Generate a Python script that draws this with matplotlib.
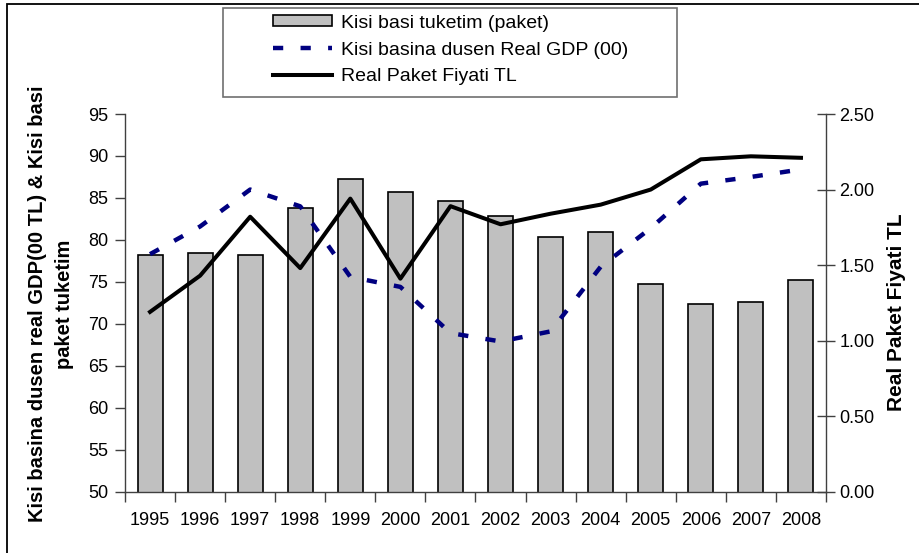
import matplotlib
matplotlib.use("Agg")
import matplotlib.pyplot as plt
from matplotlib.patches import Rectangle, Patch
from matplotlib.lines import Line2D
import numpy as np

plt.rcParams['font.family'] = ['Liberation Sans', 'DejaVu Sans']

years = ['1995', '1996', '1997', '1998', '1999', '2000', '2001',
         '2002', '2003', '2004', '2005', '2006', '2007', '2008']
tuketim = [78.2, 78.4, 78.2, 83.8, 87.2, 85.7, 84.6,
           82.9, 80.3, 80.9, 74.7, 72.4, 72.6, 75.2]
gdp = [78.3, 81.6, 86.0, 84.0, 75.6, 74.4, 68.9,
       67.9, 69.1, 76.8, 81.4, 86.7, 87.5, 88.4]
fiyat = [1.19, 1.43, 1.82, 1.48, 1.94, 1.41, 1.89,
         1.77, 1.84, 1.90, 2.00, 2.20, 2.22, 2.21]

left_ticks = [50, 55, 60, 65, 70, 75, 80, 85, 90, 95]
right_ticks = [0.0, 0.5, 1.0, 1.5, 2.0, 2.5]

W, H = 920, 553
fig = plt.figure(figsize=(W / 100, H / 100), dpi=100)
fig.patch.set_facecolor('white')

# outer chart frame (left and top visible)
fig.patches.append(Rectangle((7 / W, -0.2), 1.3, 1.2 - 4 / H,
                             transform=fig.transFigure, fill=False,
                             edgecolor='black', linewidth=1.3))

ax = fig.add_axes([125 / W, 1 - 491.7 / H, (826 - 125) / W, (491.7 - 114) / H])
ax.set_facecolor('none')
x = np.arange(len(years))

bars = ax.bar(x, tuketim, width=0.5, color='#C0C0C0', edgecolor='black',
              linewidth=1.2, zorder=2)
gline, = ax.plot(x, gdp, color='#000080', linewidth=3.2, dashes=(2.3, 3.9),
                 dash_capstyle='butt', zorder=3)
ax.set_xlim(-0.5, len(years) - 0.5)
ax.set_ylim(50, 95)
ax.set_yticks(left_ticks)
ax.set_yticklabels([str(v) for v in left_ticks])
ax.set_xticks(np.arange(-0.5, len(years), 1.0))
ax.set_xticklabels([])
ax.set_xticks(x, minor=True)
ax.set_xticklabels(years, minor=True)
ax.tick_params(axis='x', which='major', direction='out', length=7,
               color='#404040', width=1)
ax.tick_params(axis='x', which='minor', length=0, pad=14.5, labelsize=13)
ax.tick_params(axis='y', direction='out', length=7, color='#404040',
               width=1, pad=5, labelsize=13)
for s in ['top', 'right']:
    ax.spines[s].set_visible(False)
for s in ['left', 'bottom']:
    ax.spines[s].set_color('#404040')
    ax.spines[s].set_linewidth(1)

ax2 = ax.twinx()
pline, = ax2.plot(x, fiyat, color='black', linewidth=2.9, zorder=4)
ax2.set_ylim(0, 2.5)
ax2.set_yticks(right_ticks)
ax2.set_yticklabels(['%.2f' % v for v in right_ticks])
ax2.tick_params(axis='y', direction='inout', length=13, color='#404040',
                width=1, pad=3, labelsize=13)
for s in ['top', 'left', 'bottom']:
    ax2.spines[s].set_visible(False)
ax2.spines['right'].set_color('#404040')
ax2.spines['right'].set_linewidth(1)

# axis titles
fig.text(51 / W, 1 - 304 / H,
         'Kisi basina dusen real GDP(00 TL) & Kisi basi\npaket tuketim',
         rotation=90, ha='center', va='center', multialignment='center',
         fontsize=14.5, fontweight='bold', linespacing=1.5)
fig.text(897 / W, 1 - 312 / H, 'Real Paket Fiyati TL', rotation=90,
         ha='center', va='center', fontsize=15, fontweight='bold')

# legend
fig.patches.append(Rectangle((223 / W, 1 - 97 / H), (677 - 223) / W,
                             (97 - 8) / H, transform=fig.transFigure,
                             fill=True, facecolor='white',
                             edgecolor='#707070', linewidth=1.2, zorder=5))
h_bar = Patch(facecolor='#C0C0C0', edgecolor='black', linewidth=1.2)
h_g = Line2D([], [], color='#000080', linewidth=3.2, dashes=(2.3, 3.9),
             dash_capstyle='butt')
h_p = Line2D([], [], color='black', linewidth=2.9)
leg = fig.legend([h_bar, h_g, h_p],
                 ['Kisi basi tuketim (paket)', 'Kisi basina dusen Real GDP (00)',
                  'Real Paket Fiyati TL'],
                 loc='center left', bbox_to_anchor=(273 / W, 1 - 50 / H),
                 frameon=False, fontsize=14, handlelength=3.05,
                 handleheight=0.5, handletextpad=0.45, labelspacing=0.5,
                 borderpad=0, borderaxespad=0)
leg.set_zorder(6)

fig.savefig('out.png', dpi=100)
